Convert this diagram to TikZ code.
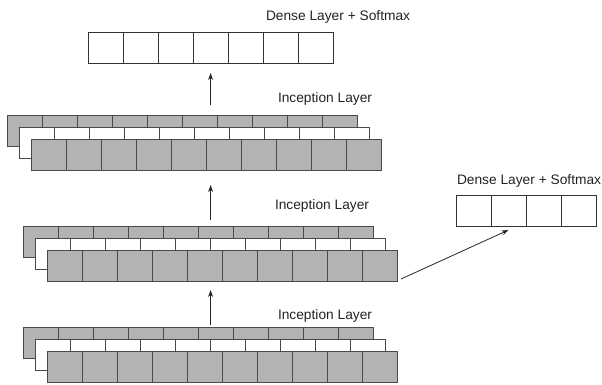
\documentclass[tikz,border=0pt]{standalone}
\usepackage{fontspec}
\setmainfont{Liberation Sans}
\usetikzlibrary{arrows.meta}
\definecolor{cellgray}{HTML}{B3B3B3}
\definecolor{celledge}{HTML}{4A4A4A}
\definecolor{denseedge}{HTML}{333333}
\definecolor{txt}{HTML}{222222}
\tikzset{
  gcell/.style={draw=celledge, fill=cellgray, line width=0.9pt, minimum width=35pt,
    minimum height=31pt, inner sep=0pt, outer sep=0pt, anchor=north west},
  wcell/.style={gcell, fill=white},
  dcell/.style={gcell, fill=white, draw=denseedge},
  lbl/.style={anchor=base west, inner sep=0pt, outer sep=0pt,
    font=\fontsize{13.75}{16}\selectfont, text=txt},
  arr/.style={-{Stealth[length=7pt,width=5pt]}, line width=0.8pt, draw=black!85}
}
\newcommand\mkrow[5]{% name, style, x, y, count-1
  \foreach \i in {0,...,#5}{
    \node[#2] (#1\i) at ({#3+35*\i},#4) {};
  }
}
\begin{document}
\begin{tikzpicture}[x=1pt,y=-1pt]
\useasboundingbox (0,0) rectangle (602,384);
% top dense layer
\mkrow{top}{dcell}{88}{32}{6}
\node[lbl] (toplbl) at (266,20) {Dense Layer + Softmax};
% inception layer 3
\mkrow{cb}{gcell}{7}{115}{9}
\mkrow{cm}{wcell}{19}{127}{9}
\mkrow{cf}{gcell}{31}{139}{9}
\node[lbl] (clbl) at (278,102) {Inception Layer};
% inception layer 2
\mkrow{bb}{gcell}{23}{226}{9}
\mkrow{bm}{wcell}{35}{238}{9}
\mkrow{bf}{gcell}{47}{250}{9}
\node[lbl] (blbl) at (275,209) {Inception Layer};
% inception layer 1
\mkrow{ab}{gcell}{23}{327}{9}
\mkrow{am}{wcell}{35}{339}{9}
\mkrow{af}{gcell}{47}{351}{9}
\node[lbl] (albl) at (278,319) {Inception Layer};
% right dense layer
\mkrow{rd}{dcell}{456}{195}{3}
\node[lbl] (rdlbl) at (457,184) {Dense Layer + Softmax};
% arrows
\coordinate (a1s) at (210.6,325);
\coordinate (a1e) at (210.6,290);
\coordinate (a2s) at (210.6,220);
\coordinate (a2e) at (210.6,185);
\coordinate (a3s) at (210.6,105);
\coordinate (a3e) at (210.6,73);
\coordinate (dgs) at (401,279);
\coordinate (dge) at (508.5,230);
\draw[arr] (a1s) -- (a1e);
\draw[arr] (a2s) -- (a2e);
\draw[arr] (a3s) -- (a3e);
\draw[arr] (dgs) -- (dge);
\end{tikzpicture}
\end{document}
